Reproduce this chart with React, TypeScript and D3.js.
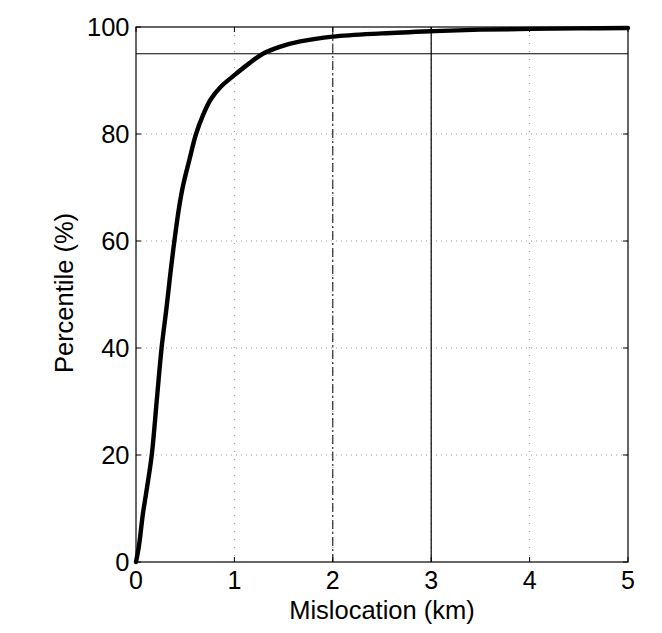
import React from "react";
import * as d3 from "d3";

const mislocationKm = [0, 0.03, 0.07, 0.1, 0.16, 0.21, 0.26, 0.31, 0.35, 0.39, 0.44, 0.48, 0.54, 0.61, 0.68, 0.76, 0.86, 1.0, 1.15, 1.29, 1.46, 1.67, 2.0, 2.5, 3.0, 3.5, 4.0, 4.5, 5.0];
const percentile = [0, 3, 9, 12.5, 20, 30, 40, 47.5, 54, 60, 66.5, 70.5, 75, 80, 83.5, 86.5, 88.8, 91, 93.2, 95, 96.3, 97.3, 98.2, 98.8, 99.2, 99.5, 99.65, 99.75, 99.8];
const xTicks = [0, 1, 2, 3, 4, 5];
const yTicks = [0, 20, 40, 60, 80, 100];
const refPercentile = 95;
const dashDotKm = 2;
const solidKm = 3;

export default function App() {
  const W = 662, H = 633;
  const left = 136, right = 628, top = 27, bottom = 562;
  const x = d3.scaleLinear().domain([0, 5]).range([left, right]);
  const y = d3.scaleLinear().domain([0, 100]).range([bottom, top]);
  const pts = mislocationKm.map((d, i) => [d, percentile[i]] as [number, number]);
  const line = d3.line<[number, number]>().x(d => x(d[0])).y(d => y(d[1])).curve(d3.curveCatmullRom.alpha(0.5));
  const font = "'Liberation Sans', Arial, Helvetica, sans-serif";
  return (
    <svg width={W} height={H} style={{ position: "absolute", left: 0, top: 0, background: "#fff" }}>
      <rect x={0} y={0} width={W} height={H} fill="#fff" />
      {xTicks.slice(1, -1).map(t => (
        <line key={"gx" + t} x1={x(t)} x2={x(t)} y1={top} y2={bottom} stroke="#999" strokeWidth={1} strokeDasharray="1,7" />
      ))}
      {yTicks.slice(1, -1).map(t => (
        <line key={"gy" + t} x1={left} x2={right} y1={y(t)} y2={y(t)} stroke="#999" strokeWidth={1} strokeDasharray="1,4" />
      ))}
      <line x1={left} x2={right} y1={y(refPercentile)} y2={y(refPercentile)} stroke="#000" strokeWidth={1.2} />
      <line x1={x(dashDotKm)} x2={x(dashDotKm)} y1={top} y2={bottom} stroke="#000" strokeWidth={1} strokeDasharray="9,3,2,3" />
      <line x1={x(solidKm)} x2={x(solidKm)} y1={top} y2={bottom} stroke="#000" strokeWidth={1.2} />
      <path d={line(pts) || ""} fill="none" stroke="#000" strokeWidth={4.4} strokeLinejoin="round" strokeLinecap="round" />
      <rect x={left} y={top} width={right - left} height={bottom - top} fill="none" stroke="#000" strokeWidth={1.2} />
      {xTicks.map(t => (
        <g key={"tx" + t}>
          <line x1={x(t)} x2={x(t)} y1={bottom} y2={bottom - 5} stroke="#000" />
          <line x1={x(t)} x2={x(t)} y1={top} y2={top + 5} stroke="#000" />
          <text x={x(t)} y={589} textAnchor="middle" fontFamily={font} fontSize={25} fill="#000">{t}</text>
        </g>
      ))}
      {yTicks.map(t => (
        <g key={"ty" + t}>
          <line x1={left} x2={left + 5} y1={y(t)} y2={y(t)} stroke="#000" />
          <line x1={right} x2={right - 5} y1={y(t)} y2={y(t)} stroke="#000" />
          <text x={129.5} y={y(t) + 9} textAnchor="end" fontFamily={font} fontSize={25.5} fill="#000">{t}</text>
        </g>
      ))}
      <text x={(left + right) / 2} y={619} textAnchor="middle" fontFamily={font} fontSize={25.5} fill="#000">Mislocation (km)</text>
      <text transform={`translate(73,293) rotate(-90)`} textAnchor="middle" fontFamily={font} fontSize={25.5} fill="#000">Percentile (%)</text>
    </svg>
  );
}
